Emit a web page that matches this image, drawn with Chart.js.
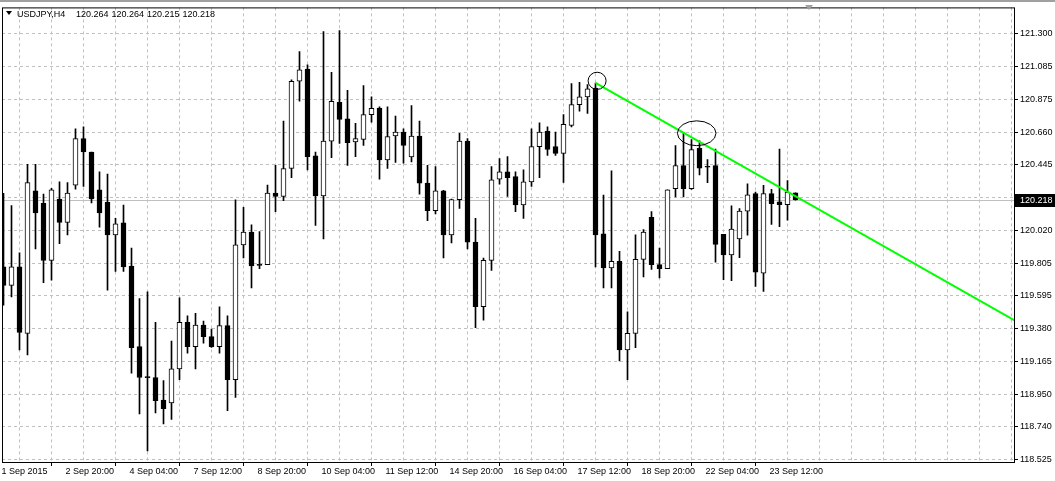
<!DOCTYPE html>
<html>
<head>
<meta charset="utf-8">
<script src="https://cdn.jsdelivr.net/npm/chart.js@4.4.1/dist/chart.umd.min.js"></script>
<style>
  html, body { margin: 0; padding: 0; background: #fff; }
  #wrap { width: 1055px; height: 481px; }
</style>
</head>
<body>
<div id="wrap"><canvas id="chart" width="1055" height="481"></canvas></div>
<script>
// ── Data (USDJPY H4, one entry per bar) ──────────────────────────────────────
const symbol = 'USDJPY,H4';

const opens = [
  119.780, 119.660, 119.780, 119.347, 120.277, 120.195, 119.823, 120.223, 120.071, 120.314,
  120.617, 120.530, 120.283, 120.201, 119.989, 120.067, 119.786, 119.260, 119.060, 119.059,
  118.912, 118.893, 119.115, 119.418, 119.260, 119.401, 119.325, 119.260, 119.397, 119.044,
  119.924, 120.007, 119.792, 119.795, 120.262, 120.240, 120.422, 120.991, 121.070, 120.505,
  120.244, 120.601, 120.854, 120.746, 120.595, 120.612, 120.774, 120.817, 120.478, 120.634,
  120.660, 120.498, 120.634, 120.327, 120.147, 120.277, 119.989, 120.219, 120.601, 119.942,
  119.520, 119.823, 120.353, 120.400, 120.370, 120.184, 120.335, 120.565, 120.666, 120.565,
  120.521, 120.703, 120.839, 120.889, 120.947, 119.996, 119.773, 119.816, 119.239, 119.347,
  119.829, 120.104, 119.795, 119.769, 120.290, 120.441, 120.290, 120.553, 120.432, 120.441,
  119.992, 119.859, 119.962, 120.144, 120.258, 119.740, 120.258, 120.204, 120.186, 120.264
];
const highs = [
  120.260, 120.180, 119.872, 120.450, 120.450, 120.255, 120.292, 120.335, 120.331, 120.681,
  120.694, 120.530, 120.400, 120.385, 120.097, 120.184, 119.903, 119.574, 119.617, 119.418,
  119.038, 119.297, 119.578, 119.461, 119.477, 119.427, 119.375, 119.520, 119.461, 120.218,
  120.169, 120.054, 120.011, 120.314, 120.443, 120.731, 121.000, 121.185, 121.099, 120.530,
  121.315, 121.049, 121.322, 120.932, 120.716, 120.963, 120.889, 120.824, 120.824, 120.764,
  120.681, 120.833, 120.731, 120.443, 120.435, 120.280, 120.223, 120.651, 120.617, 120.097,
  119.838, 120.435, 120.487, 120.500, 120.400, 120.413, 120.681, 120.720, 120.694, 120.660,
  120.774, 120.976, 120.984, 120.969, 120.980, 120.249, 120.407, 119.881, 119.487, 119.989,
  120.024, 120.141, 119.903, 120.283, 120.571, 120.657, 120.610, 120.603, 120.480, 120.549,
  119.992, 120.178, 120.160, 120.322, 120.269, 120.312, 120.286, 120.549, 120.344, 120.264
];
const lows = [
  119.530, 119.585, 119.239, 119.206, 119.898, 119.678, 119.693, 119.931, 119.989, 120.288,
  120.305, 120.197, 120.039, 119.628, 119.751, 119.751, 119.087, 118.821, 118.579, 118.828,
  118.756, 118.785, 119.044, 119.217, 119.115, 119.282, 119.255, 119.217, 118.843, 118.929,
  119.838, 119.643, 119.769, 119.795, 120.141, 120.212, 120.363, 120.861, 120.413, 120.050,
  119.963, 120.493, 120.586, 120.443, 120.500, 120.573, 120.725, 120.353, 120.422, 120.461,
  120.457, 120.465, 120.255, 120.082, 120.126, 119.838, 119.937, 120.162, 119.898, 119.384,
  119.433, 119.758, 120.320, 120.240, 120.141, 120.097, 120.305, 120.363, 120.508, 120.508,
  120.331, 120.694, 120.796, 120.781, 119.780, 119.643, 119.643, 119.167, 119.044, 119.254,
  119.715, 119.764, 119.708, 119.769, 120.236, 120.236, 120.286, 120.381, 120.330, 119.811,
  119.697, 119.690, 119.841, 119.988, 119.653, 119.621, 120.057, 120.042, 120.085, 120.215
];
const closes = [
  119.660, 119.780, 119.353, 120.331, 120.132, 119.823, 120.283, 120.071, 120.262, 120.617,
  120.530, 120.223, 120.132, 119.989, 120.061, 119.780, 119.254, 119.059, 119.058, 118.908,
  118.856, 119.115, 119.418, 119.260, 119.401, 119.325, 119.260, 119.397, 119.044, 119.924,
  120.007, 119.786, 119.790, 120.262, 120.240, 120.422, 120.991, 121.066, 120.500, 120.244,
  120.601, 120.861, 120.742, 120.590, 120.617, 120.774, 120.815, 120.478, 120.630, 120.660,
  120.573, 120.634, 120.327, 120.147, 120.277, 119.989, 120.219, 120.601, 119.942, 119.520,
  119.823, 120.348, 120.400, 120.363, 120.184, 120.335, 120.565, 120.660, 120.547, 120.521,
  120.710, 120.839, 120.889, 120.941, 119.989, 119.773, 119.816, 119.239, 119.347, 119.829,
  120.007, 119.795, 119.769, 120.283, 120.441, 120.290, 120.545, 120.424, 120.430, 119.927,
  119.859, 120.027, 120.144, 120.251, 119.746, 120.258, 120.193, 120.186, 120.269, 120.218
];

// bar index of each time label on the bottom axis
const xTickBars   = [0, 8, 16, 24, 32, 40, 48, 56, 64, 72, 80, 88, 96];
const xTickLabels = ['1 Sep 2015', '2 Sep 20:00', '4 Sep 04:00', '7 Sep 12:00', '8 Sep 20:00',
                     '10 Sep 04:00', '11 Sep 12:00', '14 Sep 20:00', '16 Sep 04:00',
                     '17 Sep 12:00', '18 Sep 20:00', '22 Sep 04:00', '23 Sep 12:00'];

const yTickValues = [121.300, 121.085, 120.875, 120.660, 120.445, 120.230, 120.020,
                     119.805, 119.595, 119.380, 119.165, 118.950, 118.740, 118.525];
const yTickLabels = ['121.300', '121.085', '120.875', '120.660', '120.445', '', '120.020',
                     '119.805', '119.595', '119.380', '119.165', '118.950', '118.740', '118.525'];

// trend line (bar index, price) and the two marker ellipses
const trendLine = [{ x: 74, y: 120.980 }, { x: 126.44, y: 119.430 }];
const ellipses  = [
  { bar: 74.2,  price: 120.994, dBars: 1.125, dPrice: 0.056 },
  { bar: 86.65, price: 120.652, dBars: 2.41,  dPrice: 0.081 },
];

// ── Helpers ──────────────────────────────────────────────────────────────────
const FONT = "'Liberation Sans', Arial, sans-serif";
Chart.defaults.font.family = FONT;

const bodyData   = opens.map((o, i) => ({ x: i, y: [o, closes[i]] }));
const wickData   = lows.map((l, i) => ({ x: i, y: [l, highs[i]] }));
const bodyColors = opens.map((o, i) => closes[i] > o ? '#ffffff' : '#000000');

const gridBars = [];
for (let b = 0; b <= 124; b += 4) gridBars.push(b);

function xLabel(v) {
  const i = xTickBars.indexOf(v);
  return i >= 0 ? xTickLabels[i] : '';
}

// ── MT4 decorations: bid line, ellipses, frame, header ───────────────────────
const mt4Plugin = {
  id: 'mt4',
  beforeDatasetsDraw(chart) {
    const { ctx, chartArea: a, scales: { y } } = chart;
    const py = Math.round(y.getPixelForValue(closes[closes.length - 1])) + 0.5;
    ctx.save();
    ctx.strokeStyle = '#c0c0c0';
    ctx.lineWidth = 1;
    ctx.beginPath();
    ctx.moveTo(a.left, py);
    ctx.lineTo(a.right, py);
    ctx.stroke();
    ctx.restore();
  },
  afterDatasetsDraw(chart) {
    const { ctx, chartArea: a, scales: { x, y } } = chart;
    ctx.save();
    ctx.beginPath();
    ctx.rect(a.left, a.top, a.right - a.left, a.bottom - a.top);
    ctx.clip();
    ctx.strokeStyle = '#000';
    ctx.lineWidth = 1;
    ellipses.forEach(e => {
      const cx = x.getPixelForValue(e.bar);
      const cy = y.getPixelForValue(e.price);
      const rx = Math.abs(x.getPixelForValue(e.bar + e.dBars) - cx);
      const ry = Math.abs(y.getPixelForValue(e.price + e.dPrice) - cy);
      ctx.beginPath();
      ctx.ellipse(cx, cy, rx, ry, 0, 0, Math.PI * 2);
      ctx.stroke();
    });
    ctx.restore();
  },
  afterDraw(chart) {
    const { ctx, chartArea: a, scales: { y } } = chart;
    ctx.save();
    // window edge
    ctx.fillStyle = '#a0a0a0';
    ctx.fillRect(0, 0, chart.width, 2);
    // frame
    ctx.strokeStyle = '#000';
    ctx.lineWidth = 1;
    ctx.strokeRect(a.left + 0.5, a.top + 0.5, a.right - a.left - 1, a.bottom - a.top - 1);
    // chart shift marker
    ctx.fillStyle = '#a0a0a0';
    ctx.beginPath();
    ctx.moveTo(805, 5); ctx.lineTo(813, 5); ctx.lineTo(809, 10); ctx.closePath();
    ctx.fill();
    // header
    const last = closes.length - 1;
    ctx.fillStyle = '#000';
    ctx.beginPath();
    ctx.moveTo(6, 11); ctx.lineTo(12, 11); ctx.lineTo(9, 15); ctx.closePath();
    ctx.fill();
    ctx.font = '9px ' + FONT;
    ctx.textBaseline = 'alphabetic';
    ctx.textAlign = 'left';
    ctx.fillText(symbol, 17, 17);
    [opens[last], highs[last], lows[last], closes[last]].forEach((v, i) => {
      ctx.fillText(v.toFixed(3), 76 + i * 35.5, 17);
    });
    // current price box on the axis
    const py = Math.round(y.getPixelForValue(closes[last]));
    ctx.fillStyle = '#000';
    ctx.fillRect(a.right, py - 6, chart.width - a.right, 13);
    ctx.fillStyle = '#fff';
    ctx.textBaseline = 'middle';
    ctx.fillText(closes[last].toFixed(3), a.right + 5, py + 1);
    ctx.restore();
  },
};

// ── Chart ────────────────────────────────────────────────────────────────────
new Chart(document.getElementById('chart'), {
  type: 'bar',
  data: {
    datasets: [
      {
        type: 'line',
        label: 'trend',
        data: trendLine,
        borderColor: '#00ff00',
        borderWidth: 2,
        pointRadius: 0,
        order: 0,
      },
      {
        label: 'body',
        data: bodyData,
        backgroundColor: bodyColors,
        borderColor: '#000000',
        borderWidth: 1,
        borderSkipped: false,
        barThickness: 5,
        minBarLength: 1,
        grouped: false,
        order: 1,
      },
      {
        label: 'wick',
        data: wickData,
        backgroundColor: '#000000',
        barThickness: 1,
        grouped: false,
        order: 2,
      },
    ],
  },
  options: {
    responsive: false,
    devicePixelRatio: 1,
    animation: false,
    layout: { padding: { left: 2, top: 4, right: 0, bottom: 0 }, autoPadding: false },
    plugins: {
      legend: { display: false },
      tooltip: { enabled: false },
    },
    scales: {
      x: {
        type: 'linear',
        min: -0.1875,
        max: 126.4375,
        offset: false,
        afterBuildTicks: s => { s.ticks = gridBars.map(v => ({ value: v })); },
        afterFit: s => { s.height = 18; },
        grid: {
          color: '#c0c0c0',
          lineWidth: 1,
          tickLength: 3,
          tickBorderDash: [],
          tickColor: c => (c.tick && c.tick.value > 0 && xLabel(c.tick.value)) ? '#000' : 'rgba(0,0,0,0)',
        },
        border: { display: false, dash: [3, 3] },
        ticks: {
          autoSkip: false,
          maxRotation: 0,
          align: 'start',
          padding: 0,
          labelOffset: -2,
          color: '#000',
          font: { size: 9 },
          callback: v => xLabel(v),
        },
      },
      y: {
        position: 'right',
        min: 118.501,
        max: 121.473,
        afterBuildTicks: s => { s.ticks = yTickValues.map(v => ({ value: v })); },
        afterFit: s => { s.width = 40; },
        grid: {
          color: '#c0c0c0',
          lineWidth: 1,
          tickLength: 3,
          tickBorderDash: [],
          tickColor: '#000',
        },
        border: { display: false, dash: [3, 3] },
        ticks: {
          padding: 2,
          color: '#000',
          font: { size: 9 },
          callback: (v, i) => yTickLabels[i],
        },
      },
    },
  },
  plugins: [mt4Plugin],
});
</script>
</body>
</html>
